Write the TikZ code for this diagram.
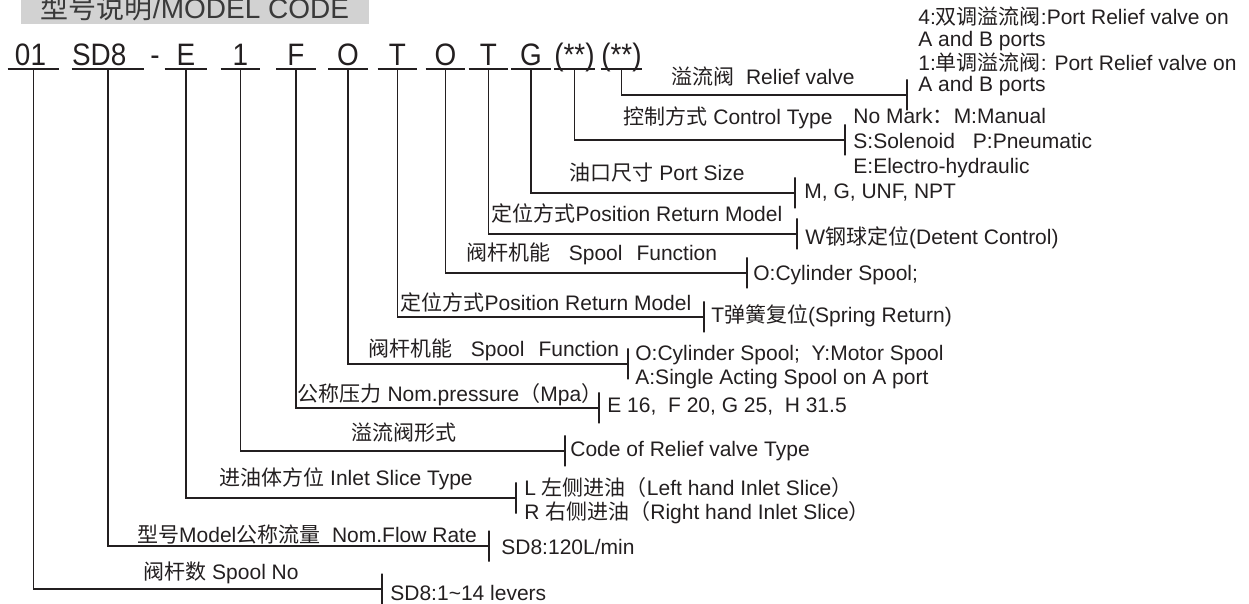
\documentclass[tikz,border=0pt]{standalone}
\usepackage{fontspec}
\setmainfont{Liberation Sans}
\newfontfamily\cjk{Noto Sans CJK SC}
\newfontfamily\codefont[FakeStretch=0.9]{Liberation Sans}
\newcommand{\zh}[1]{{\cjk #1}}
\usepackage{tikz}
\usetikzlibrary{calc,positioning}
\definecolor{ink}{HTML}{231F20}
\definecolor{band}{HTML}{D2D2D2}
\definecolor{headink}{HTML}{3A3A3A}
\tikzset{
  code/.style={font=\codefont\fontsize{15.5}{17}\selectfont,text=ink,inner xsep=0pt,inner ysep=1.5pt,text depth=0pt,anchor=south,minimum width=19.5pt},
  uline/.style={draw=ink,line width=.85pt},
  lead/.style={draw=ink,line width=.85pt},
  brk/.style={draw=ink,line width=.8pt,minimum width=0pt,minimum height=15.5pt,inner sep=0pt},
  lbl/.style={font=\fontsize{10.5}{12}\selectfont,text=ink,inner sep=0pt},
  opt/.style={font=\fontsize{10.5}{12}\selectfont,text=ink,inner sep=0pt,anchor=west,align=left}
}
\begin{document}
\begin{tikzpicture}[x=.5pt,y=-.5pt]
  \useasboundingbox (0,0) rectangle (1249,604);
  \fill[band] (21,-4) rectangle (369,24);
  \node[anchor=base,font=\fontsize{14}{16}\selectfont,text=headink] (head) at (195,18.5) {\zh{型号说明}/MODEL CODE};
  % code row
  \node[code,text width=25.5pt,align=left] (cnum) at (33.5,69) {\hspace*{3.5pt}01};
  \node[code,text width=36pt,align=left] (cmodel) at (108,69) {SD8};
  \node[code,minimum width=0pt] (cdash) at (155,69) {-};
  \node[code,minimum width=21pt] (cinlet) at (186,69) {E};
  \node[code] (crv) at (240.5,69) {1};
  \node[code] (cpress) at (296,69) {F};
  \node[code] (cfunA) at (348,69) {O};
  \node[code] (cretA) at (397.5,69) {T};
  \node[code] (cfunB) at (445.5,69) {O};
  \node[code] (cretB) at (488.5,69) {T};
  \node[code] (cport) at (531,69) {G};
  \node[code] (cctrl) at (574.5,69) {(**)};
  \node[code] (crelief) at (621.5,69) {(**)};
  \draw[uline] (cnum.south west) -- (cnum.south east);
  \draw[uline] (cmodel.south west) -- (cmodel.south east);
  \draw[uline] (cinlet.south west) -- (cinlet.south east);
  \draw[uline] (crv.south west) -- (crv.south east);
  \draw[uline] (cpress.south west) -- (cpress.south east);
  \draw[uline] (cfunA.south west) -- (cfunA.south east);
  \draw[uline] (cretA.south west) -- (cretA.south east);
  \draw[uline] (cfunB.south west) -- (cfunB.south east);
  \draw[uline] (cretB.south west) -- (cretB.south east);
  \draw[uline] (cport.south west) -- (cport.south east);
  \draw[uline] (cctrl.south west) -- (cctrl.south east);
  \draw[uline] (crelief.south west) -- (crelief.south east);
  % relief valve
  \node[brk] (brelief) at (907,95) {};
  \draw[lead] (crelief.south) |- (brelief.center);
  \node[lbl] (lrelief) at (763,77) {\zh{溢流阀}\ \ Relief valve};
  \node[opt,font=\fontsize{10.5}{10.75}\selectfont] (orelief) at (918,51.5) {4:\zh{双调溢流阀}:Port Relief valve on\\A and B ports\\1:\zh{单调溢流阀}: Port Relief valve on\\A and B ports};
  % control type
  \node[brk] (bctrl) at (845,140) {};
  \draw[lead] (cctrl.south) |- (bctrl.center);
  \node[lbl] (lctrl) at (728,118) {\zh{控制方式} Control Type};
  \node[opt,font=\fontsize{10.5}{12.5}\selectfont] (octrl) at (853,143) {No Mark\zh{：}M:Manual\\S:Solenoid\hspace{9pt}P:Pneumatic\\E:Electro-hydraulic};
  % port size
  \node[brk] (bport) at (795,193) {};
  \draw[lead] (cport.south) |- (bport.center);
  \node[lbl] (lport) at (657,173) {\zh{油口尺寸} Port Size};
  \node[opt] (oport) at (804,193) {M, G, UNF, NPT};
  % detent
  \node[brk] (bretB) at (797,234) {};
  \draw[lead] (cretB.south) |- (bretB.center);
  \node[lbl] (lretB) at (637,213) {\zh{定位方式}Position Return Model};
  \node[opt] (oretB) at (805,238) {W\zh{钢球定位}(Detent Control)};
  % spool function O
  \node[brk] (bfunB) at (747,273) {};
  \draw[lead] (cfunB.south) |- (bfunB.center);
  \node[lbl] (lfunB) at (592,254) {\zh{阀杆机能}\hspace{9pt}Spool\hspace{7pt}Function};
  \node[opt] (ofunB) at (753,275) {O:Cylinder Spool;};
  % spring return
  \node[brk] (bretA) at (704,317) {};
  \draw[lead] (cretA.south) |- (bretA.center);
  \node[lbl] (lretA) at (546,302) {\zh{定位方式}Position Return Model};
  \node[opt] (oretA) at (711,316) {T\zh{弹簧复位}(Spring Return)};
  % spool function O/Y/A
  \node[brk] (bfunA) at (628,364) {};
  \draw[lead] (cfunA.south) |- (bfunA.center);
  \node[lbl] (lfunA) at (494,350) {\zh{阀杆机能}\hspace{9pt}Spool\hspace{7pt}Function};
  \node[opt] (ofunA) at (635,367) {O:Cylinder Spool;\ \ Y:Motor Spool\\A:Single Acting Spool on A port};
  % pressure
  \node[brk] (bpress) at (599,408) {};
  \draw[lead] (cpress.south) |- (bpress.center);
  \node[lbl] (lpress) at (450,395) {\zh{公称压力} Nom.pressure\zh{（}Mpa\zh{）}};
  \node[opt] (opress) at (607,407) {E 16,\ \ F 20, G 25,\ \ H 31.5};
  % relief valve type
  \node[brk] (brv) at (565,451) {};
  \draw[lead] (crv.south) |- (brv.center);
  \node[lbl] (lrv) at (404,433) {\zh{溢流阀形式}};
  \node[opt] (orv) at (570,451) {Code of Relief valve Type};
  % inlet
  \node[brk] (binlet) at (516,498) {};
  \draw[lead] (cinlet.south) |- (binlet.center);
  \node[lbl] (linlet) at (346,479) {\zh{进油体方位} Inlet Slice Type};
  \node[opt] (oinlet) at (524,501) {L \zh{左侧进油（}Left hand Inlet Slice\zh{）}\\R \zh{右侧进油（}Right hand Inlet Slice\zh{）}};
  % flow rate
  \node[brk] (bmodel) at (489,546) {};
  \draw[lead] (cmodel.south) |- (bmodel.center);
  \node[lbl] (lmodel) at (307,535) {\zh{型号}Model\zh{公称流量}\ \ Nom.Flow Rate};
  \node[opt] (omodel) at (501,547) {SD8:120L/min};
  % spool number
  \node[brk] (bnum) at (382,589) {};
  \draw[lead] (cnum.south) |- (bnum.center);
  \node[lbl] (lnum) at (221,573) {\zh{阀杆数} Spool No};
  \node[opt] (onum) at (390,593) {SD8:1\textasciitilde14 levers};
\end{tikzpicture}
\end{document}
